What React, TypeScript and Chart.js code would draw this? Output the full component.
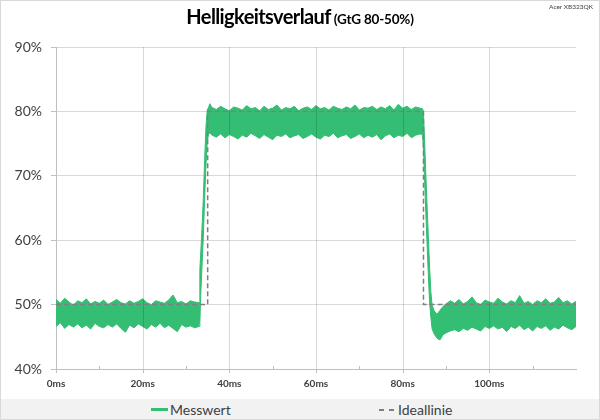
import React, { useEffect, useRef } from "react";
import { Chart, registerables } from "chart.js";

Chart.register(...registerables);

// Sample times (ms) for the measured brightness band
const timeMs = [
  0, 1, 2, 3, 4, 5, 6, 7, 8, 9,
  10, 11, 12, 13, 14, 15, 16, 17, 18, 19,
  20, 21, 22, 23, 24, 25, 26, 27, 28, 29,
  30, 31, 32,
  33, 33.2, 33.4, 33.7, 34, 34.3, 34.6, 34.9, 35.2, 35.5,
  36, 37, 38, 39, 40, 41, 42, 43, 44, 45,
  46, 47, 48, 49, 50, 51, 52, 53, 54, 55,
  56, 57, 58, 59, 60, 61, 62, 63, 64, 65,
  66, 67, 68, 69, 70, 71, 72, 73, 74, 75,
  76, 77, 78, 79, 80, 81, 82, 83, 84,
  84.6, 84.8, 85, 85.3, 85.6, 85.9, 86.2, 86.5, 86.8, 87.3, 87.9, 88.6, 89.3, 90,
  91, 92, 93, 94, 95, 96, 97, 98, 99, 100,
  101, 102, 103, 104, 105, 106, 107, 108, 109, 110,
  111, 112, 113, 114, 115, 116, 117, 118, 119, 120,
];

// Upper edge of the noisy "Messwert" band (%)
const messwertMax = [
  50.8, 50.2, 51.0, 50.4, 49.9, 50.6, 50.3, 50.9, 50.1, 50.5,
  50.2, 50.7, 50.0, 50.4, 50.8, 50.3, 50.1, 50.6, 50.2, 50.5,
  50.9, 50.3, 50.0, 50.6, 50.4, 50.2, 50.7, 51.5, 50.3, 50.5,
  50.1, 50.6, 50.4,
  50.3, 55.5, 58, 62, 66.5, 72.5, 77.5, 80.2, 80.6, 81.2,
  80.6, 80.3, 80.8, 80.4, 80.1, 80.7, 80.5, 80.2, 80.9, 80.4,
  80.6, 80.1, 80.8, 80.3, 80.5, 81.0, 80.2, 80.6, 80.4, 80.8,
  80.1, 80.5, 80.7, 80.3, 80.9, 80.4, 80.6, 80.2, 80.8, 80.5,
  80.3, 80.7, 80.4, 81.0, 80.2, 80.6, 80.5, 80.8, 80.3, 80.7,
  80.4, 80.9, 80.2, 81.1, 80.5, 80.8, 80.3, 80.7, 80.5,
  80.4, 79.8, 76.5, 71, 66, 61, 56, 52, 49.9, 49.0, 48.5, 49.1, 49.7, 50.1,
  50.6, 50.2, 50.8, 50.1, 50.5, 51.2, 50.3, 50.0, 50.7, 50.4,
  50.2, 51.0, 50.4, 50.1, 50.6, 50.3, 51.4, 50.2, 50.5, 50.0,
  50.6, 50.3, 50.9, 50.2, 50.4, 51.1, 50.3, 50.6, 50.1, 50.5,
];

// Lower edge of the noisy "Messwert" band (%)
const messwertMin = [
  46.6, 47.2, 46.3, 46.9, 46.5, 47.0, 46.4, 46.8, 46.2, 47.1,
  46.6, 46.4, 46.9, 46.5, 47.0, 46.3, 45.7, 46.8, 46.4, 47.0,
  46.6, 46.2, 46.9, 46.5, 47.1, 46.4, 46.8, 46.3, 45.8, 46.9,
  46.5, 46.7, 46.4,
  46.6, 47.2, 51.5, 56, 60.5, 66.5, 71.5, 75.3, 76.4, 76.7,
  76.3, 76.0, 76.5, 75.9, 76.4, 76.1, 75.7, 76.3, 76.0, 76.6,
  76.2, 75.8, 76.4, 76.0, 75.6, 76.3, 76.1, 76.5, 75.9, 76.2,
  76.4, 75.8, 76.1, 76.5, 76.0, 75.7, 76.3, 76.1, 76.6, 75.9,
  76.2, 76.4, 75.8, 76.1, 76.5, 75.9, 76.3, 76.0, 76.4, 75.6,
  76.2, 76.5, 75.9, 76.3, 76.1, 76.6, 75.9, 76.3, 76.5,
  76.4, 74, 70.5, 65, 60, 55, 50.5, 48, 46.2, 45.4, 44.8, 44.5, 45.3, 45.6,
  45.9, 46.1, 45.8, 46.3, 46.0, 46.5, 46.2, 45.9, 46.6, 46.3,
  46.7, 46.2, 46.5, 45.8, 46.6, 46.3, 46.8, 46.1, 46.5, 45.9,
  46.6, 46.3, 46.7, 46.0, 46.5, 46.2, 46.8, 46.4, 46.1, 46.6,
];

// Ideal step response
const idealTime = [0, 35, 35, 84.8, 84.8, 120];
const idealValue = [50, 50, 80, 80, 50, 50];

// Axis ticks
const xLabelTicks = [0, 20, 40, 60, 80, 100];
const yTicks = [40, 50, 60, 70, 80, 90];

const GREEN = "#34BE73";
const GRAY_DASH = "#7f7f7f";
const FONT = "Lato, 'Open Sans', sans-serif";

export default function App() {
  const canvasRef = useRef<HTMLCanvasElement | null>(null);

  useEffect(() => {
    document.body.style.margin = "0";
    const canvas = canvasRef.current;
    if (!canvas) return;

    const n = Math.min(timeMs.length, messwertMax.length, messwertMin.length);
    const upper: { x: number; y: number }[] = [];
    const lower: { x: number; y: number }[] = [];
    for (let i = 0; i < n; i++) {
      upper.push({ x: timeMs[i], y: messwertMax[i] });
      lower.push({ x: timeMs[i], y: messwertMin[i] });
    }
    const ideal = idealTime.map((t, i) => ({ x: t, y: idealValue[i] }));

    const isMajor = (v: number) => xLabelTicks.includes(v);

    // x grid lines (drawn over the data, as in the original) and x tick marks
    const xGrid = {
      id: "xGrid",
      afterDatasetsDraw(chart: any) {
        const s = chart.scales.x;
        const area = chart.chartArea;
        const ctx = chart.ctx;
        ctx.save();
        ctx.lineWidth = 1;
        s.ticks.forEach((t: any) => {
          const px = Math.round(s.getPixelForValue(t.value)) + 0.5;
          if (isMajor(t.value)) {
            if (t.value > 0) {
              ctx.strokeStyle = "rgba(0,0,0,0.15)";
              ctx.beginPath();
              ctx.moveTo(px, area.top);
              ctx.lineTo(px, area.bottom);
              ctx.stroke();
            }
            ctx.strokeStyle = "#bfbfbf";
            ctx.beginPath();
            ctx.moveTo(px, area.bottom);
            ctx.lineTo(px, area.bottom + 4);
            ctx.stroke();
          } else {
            ctx.strokeStyle = "#bfbfbf";
            ctx.beginPath();
            ctx.moveTo(px, area.bottom - 3);
            ctx.lineTo(px, area.bottom);
            ctx.stroke();
          }
        });
        ctx.restore();
      },
    };

    const chart = new Chart(canvas, {
      type: "line",
      data: {
        datasets: [
          {
            label: "Ideallinie",
            data: ideal,
            borderColor: GRAY_DASH,
            borderWidth: 1.5,
            borderDash: [5, 3],
            pointRadius: 0,
            fill: false,
            tension: 0,
          },
          {
            label: "Messwert",
            data: upper,
            borderColor: GREEN,
            backgroundColor: GREEN,
            borderWidth: 1,
            pointRadius: 0,
            fill: "+1",
            tension: 0,
          },
          {
            label: "Messwert (min)",
            data: lower,
            borderColor: GREEN,
            backgroundColor: GREEN,
            borderWidth: 1,
            pointRadius: 0,
            fill: false,
            tension: 0,
          },
        ],
      },
      options: {
        animation: false,
        responsive: false,
        maintainAspectRatio: false,
        layout: { padding: { top: 47, right: 24, left: 0, bottom: 0 } },
        plugins: {
          legend: { display: false },
          title: { display: false },
          tooltip: { enabled: false },
        },
        scales: {
          x: {
            type: "linear",
            min: 0,
            max: 120,
            border: { display: true, color: "#bfbfbf", width: 1 },
            grid: { display: false, drawTicks: false },
            ticks: {
              stepSize: 10,
              autoSkip: false,
              maxRotation: 0,
              padding: 9,
              color: "#404040",
              font: { family: FONT, size: 10, weight: "bold" },
              callback: (v: any) => (isMajor(Number(v)) ? `${v}ms` : ""),
            },
            afterBuildTicks: (s: any) => {
              s.ticks = s.ticks.filter((t: any) => t.value < 120);
            },
            afterFit: (s: any) => {
              s.height = 30;
            },
          },
          y: {
            min: yTicks[0],
            max: yTicks[yTicks.length - 1],
            border: { color: "#bfbfbf", width: 1 },
            grid: { color: "#d9d9d9", tickColor: "#bfbfbf", tickLength: 5 },
            ticks: {
              stepSize: 10,
              padding: 9,
              color: "#404040",
              font: { family: FONT, size: 14 },
              callback: (v: any) => `${v}%`,
            },
            afterFit: (s: any) => {
              s.width = 56;
            },
          },
        },
      },
      plugins: [xGrid],
    } as any);

    return () => chart.destroy();
  }, []);

  return (
    <div
      style={{
        position: "relative",
        width: 600,
        height: 420,
        background: "#fff",
        overflow: "hidden",
        fontFamily: FONT,
      }}
    >
      <canvas
        ref={canvasRef}
        width={600}
        height={399}
        style={{ position: "absolute", left: 0, top: 0, width: 600, height: 399, display: "block" }}
      />
      <div
        style={{
          position: "absolute",
          top: 2,
          left: 0,
          width: 600,
          textAlign: "center",
          whiteSpace: "nowrap",
          color: "#000",
          lineHeight: "28px",
        }}
      >
        <span style={{ fontSize: 20, fontWeight: 700, letterSpacing: -0.6, marginRight: 3 }}>
          Helligkeitsverlauf
        </span>
        <span style={{ fontSize: 13.5, fontWeight: 700, letterSpacing: -0.2 }}>(GtG 80-50%)</span>
      </div>
      <div
        style={{
          position: "absolute",
          top: 3,
          right: 7,
          fontSize: 6.5,
          color: "#404040",
          whiteSpace: "nowrap",
        }}
      >
        Acer XB323QK
      </div>
      <div
        style={{
          position: "absolute",
          top: 399,
          left: 0,
          width: 600,
          height: 21,
          background: "#f2f2f2",
        }}
      >
        <div style={{ position: "absolute", left: 151, top: 9, width: 17, height: 3, background: GREEN }} />
        <span
          style={{ position: "absolute", left: 170, top: 2, fontSize: 14, lineHeight: "17px", color: "#404040" }}
        >
          Messwert
        </span>
        <div style={{ position: "absolute", left: 379, top: 10, width: 5, height: 1.5, background: GRAY_DASH }} />
        <div style={{ position: "absolute", left: 389, top: 10, width: 5, height: 1.5, background: GRAY_DASH }} />
        <span
          style={{ position: "absolute", left: 398, top: 2, fontSize: 14, lineHeight: "17px", color: "#404040" }}
        >
          Ideallinie
        </span>
      </div>
      <div
        style={{
          position: "absolute",
          inset: 0,
          border: "1px solid #d9d9d9",
          boxSizing: "border-box",
          pointerEvents: "none",
        }}
      />
    </div>
  );
}
